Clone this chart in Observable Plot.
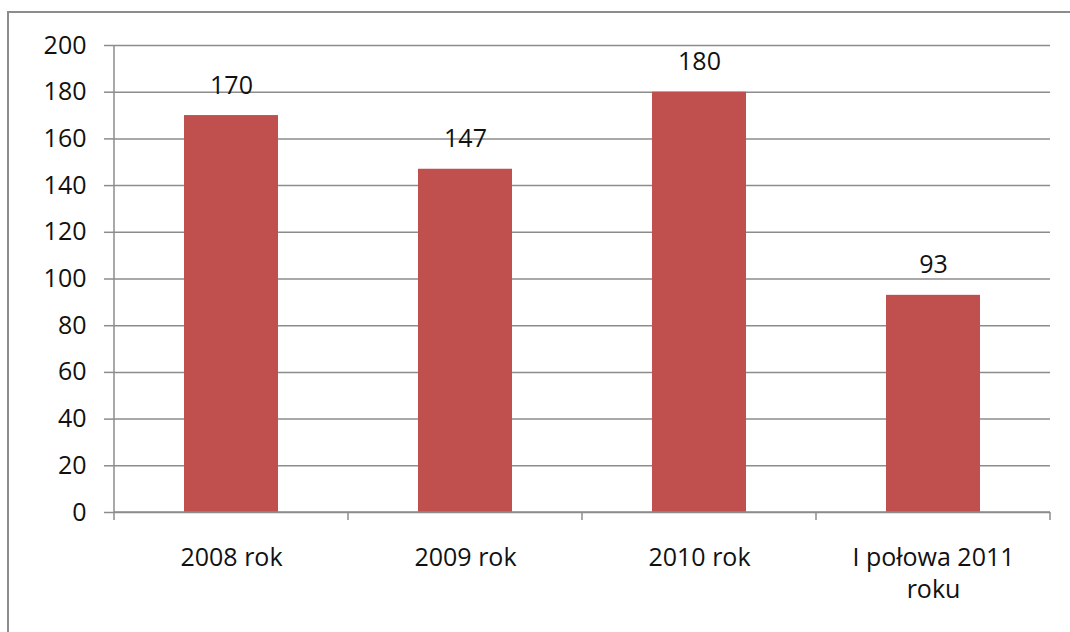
<!DOCTYPE html>
<html>
<head>
<meta charset="utf-8">
<script src="https://cdn.jsdelivr.net/npm/d3@7"></script>
<script src="https://cdn.jsdelivr.net/npm/@observablehq/plot@0.6"></script>
<style>
  html, body { margin: 0; padding: 0; background: #fff; overflow: hidden; }
  #frame { position: absolute; left: 7px; top: 11px; width: 1200px; height: 800px; border: 2px solid #8c8c8c; box-sizing: border-box; }
  #chart { position: absolute; left: 0; top: 0; }
</style>
</head>
<body>
<div id="frame"></div>
<div id="chart"></div>
<script>
const categories = ["2008 rok", "2009 rok", "2010 rok", "I połowa 2011 roku"];
const values = [170, 147, 180, 93];
const tickLabels = ["2008 rok", "2009 rok", "2010 rok", "I połowa 2011\nroku"];
const yTicks = [0, 20, 40, 60, 80, 100, 120, 140, 160, 180, 200];

const data = categories.map((c, i) => ({category: c, value: values[i], label: tickLabels[i]}));
const labelOf = new Map(data.map(d => [d.category, d.label]));

const gray = "#8c8c8c";
const font = "'Open Sans', sans-serif";
const fs = 25;

function boundaryTicks(index, scales, channels, dims) {
  const x = scales.x, y = scales.y;
  const step = x.step(), bw = x.bandwidth();
  const g = d3.create("svg:g").attr("stroke", gray).attr("stroke-width", 1.5);
  const y0 = y(0), y1 = y(d3.max(yTicks));
  const edges = categories.map(c => x(c) - (step - bw) / 2);
  edges.push(edges[edges.length - 1] + step);
  edges.forEach((e, i) => {
    g.append("line").attr("x1", e).attr("x2", e)
      .attr("y1", i === 0 ? y1 : y0).attr("y2", y0 + 8);
  });
  g.append("line").attr("x1", edges[0]).attr("x2", edges[edges.length - 1]).attr("y1", y0).attr("y2", y0);
  return g.node();
}

const plot = Plot.plot({
  width: 1070,
  height: 632,
  marginLeft: 113,
  marginRight: 20,
  marginTop: 45,
  marginBottom: 120,
  style: {fontFamily: font, fontSize: fs + "px", color: "#111", background: "transparent"},
  x: {domain: categories, paddingInner: 0.6, paddingOuter: 0.3, label: null},
  y: {domain: [0, 200], ticks: yTicks, label: null},
  marks: [
    Plot.gridY(yTicks, {stroke: gray, strokeOpacity: 1, strokeWidth: 1.5}),
    Plot.axisY(yTicks, {tickSize: 9, tickPadding: 18, stroke: gray, strokeWidth: 1.5, fill: "#111", fontSize: fs, label: null}),
    Plot.axisX({tickSize: 0, tickPadding: 30, tickFormat: d => labelOf.get(d), lineHeight: 1.3, fill: "#111", fontSize: fs, label: null}),
    Plot.barY(data, {x: "category", y: "value", fill: "#C0504D"}),
    Plot.text(data, {x: "category", y: "value", text: d => String(d.value), dy: -30, lineAnchor: "middle", fill: "#111", fontSize: fs}),
    boundaryTicks
  ]
});
document.getElementById("chart").appendChild(plot);
</script>
</body>
</html>
